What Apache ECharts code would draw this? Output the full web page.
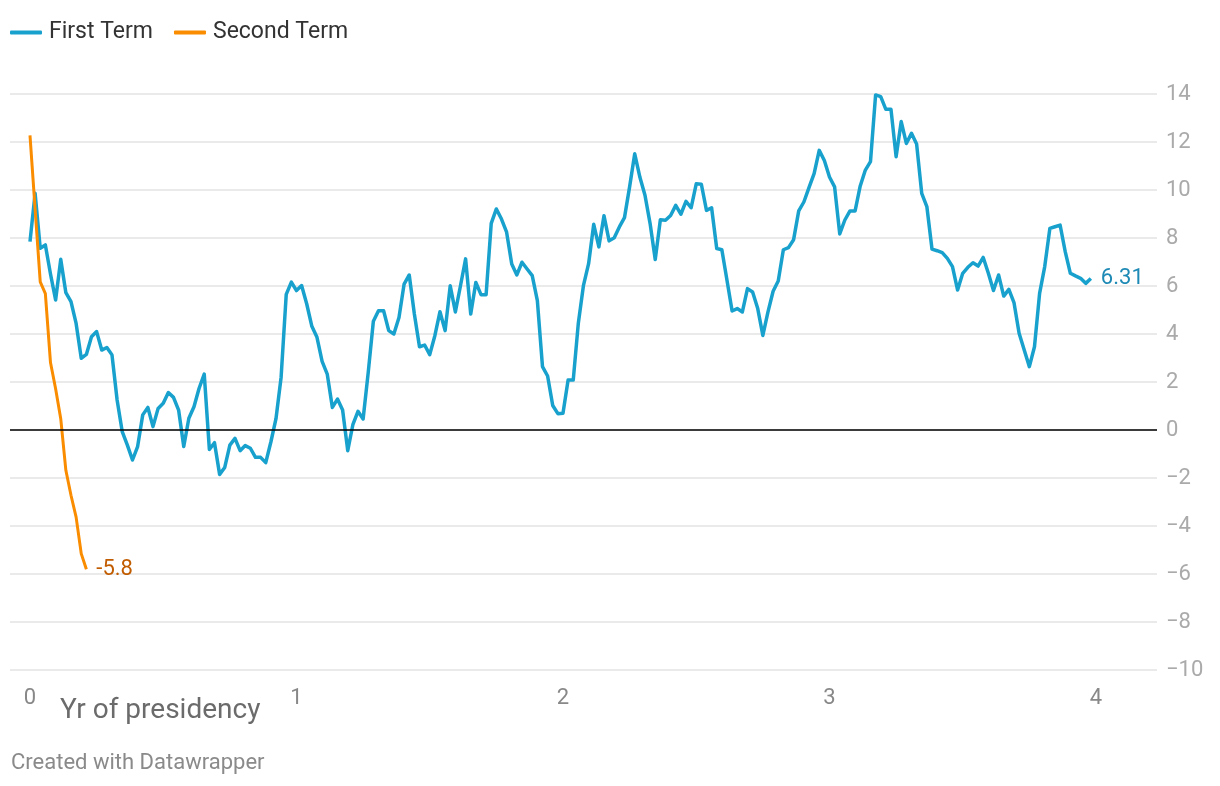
<!DOCTYPE html>
<html>
<head>
<meta charset="utf-8">
<script src="https://cdn.jsdelivr.net/npm/echarts@6/dist/echarts.min.js"></script>
<style>
html,body{margin:0;padding:0;background:#fff;}
#chart{width:1220px;height:786px;}
</style>
</head>
<body>
<div id="chart"></div>
<script>
// weekly values (52 weeks per year of presidency)
const weeksPerYear = 52;
const firstTerm = [
7.85,9.86,7.57,7.71,6.5,5.42,7.11,5.72,5.35,4.44,
2.99,3.15,3.89,4.10,3.33,3.44,3.13,1.25,-0.07,-0.63,
-1.25,-0.69,0.63,0.94,0.14,0.90,1.11,1.56,1.36,0.83,
-0.69,0.49,0.97,1.74,2.33,-0.81,-0.53,-1.85,-1.56,-0.63,
-0.35,-0.86,-0.65,-0.76,-1.14,-1.14,-1.36,-0.5,0.47,2.2,
5.65,6.16,5.81,6.02,5.25,4.32,3.86,2.86,2.33,0.94,
1.29,0.83,-0.86,0.22,0.78,0.46,2.40,4.53,4.97,4.97,
4.14,4.0,4.69,6.08,6.46,4.83,3.47,3.54,3.14,3.93,
4.93,4.14,6.01,4.92,6.01,7.13,4.83,6.15,5.64,5.64,
8.61,9.21,8.79,8.24,6.92,6.46,6.99,6.71,6.43,5.39,
2.64,2.25,1.02,0.68,0.70,2.08,2.08,4.46,6.03,6.93,
8.57,7.63,8.93,7.88,8.01,8.46,8.85,10.13,11.51,10.54,
9.78,8.6,7.1,8.76,8.74,8.94,9.36,8.99,9.53,9.26,
10.26,10.24,9.15,9.26,7.56,7.51,6.24,4.96,5.06,4.92,
5.89,5.75,5.06,3.94,4.92,5.78,6.21,7.51,7.6,7.93,
9.13,9.5,10.1,10.68,11.65,11.23,10.54,10.13,8.17,8.75,
9.13,9.13,10.17,10.83,11.18,13.96,13.89,13.36,13.36,11.39,
12.85,11.94,12.36,11.92,9.86,9.31,7.54,7.47,7.39,7.15,
6.81,5.83,6.53,6.78,6.97,6.83,7.19,6.53,5.81,6.46,
5.58,5.86,5.31,4.03,3.33,2.64,3.47,5.69,6.81,8.4,
8.47,8.54,7.43,6.53,6.42,6.32,6.11,6.31
];
const secondTerm = [12.28,9.2,6.17,5.68,2.81,1.72,0.47,-1.68,-2.72,-3.63,-5.15,-5.8];
const seriesNames = ['First Term','Second Term'];
const xTickValues = [0,1,2,3,4];
const yTicks = {min:-10, max:14, step:2};

function toPairs(arr){ return arr.map((v,i)=>[i/weeksPerYear, v]); }

const FONT = 'Roboto, "Noto Sans", sans-serif';
const chart = echarts.init(document.getElementById('chart'), null, {renderer:'canvas'});
chart.setOption({
  animation:false,
  backgroundColor:'#fff',
  textStyle:{fontFamily:FONT},
  legend:{
    left:10, top:21, padding:0,
    icon:'roundRect', itemWidth:32, itemHeight:4, itemGap:21,
    textStyle:{fontSize:23, color:'#333', fontFamily:FONT, padding:[0,0,0,2]},
    data:seriesNames
  },
  grid:{left:10, right:63, top:94, bottom:116, containLabel:false, outerBoundsMode:'none'},
  xAxis:{
    type:'value', min:-0.075, max:4.229,
    axisLine:{show:false}, axisTick:{show:false}, splitLine:{show:false},
    axisLabel:{customValues:xTickValues, color:'#888', fontSize:22, margin:17, fontFamily:FONT}
  },
  yAxis:{
    type:'value', position:'right', min:yTicks.min, max:yTicks.max, interval:yTicks.step,
    axisLine:{show:false}, axisTick:{show:false},
    splitLine:{show:true, lineStyle:{color:'#e3e3e3', width:1.5}},
    axisLabel:{color:'#aaa', fontSize:22, margin:9, fontFamily:FONT,
      formatter:v=> (v<0 ? '\u2212'+Math.abs(v) : String(v))}
  },
  series:[
    {
      name:seriesNames[0], type:'line', data:toPairs(firstTerm),
      showSymbol:false, symbol:'none', color:'#18a1cd',
      lineStyle:{width:3.5, color:'#18a1cd', join:'round'},
      endLabel:{show:true, formatter:p=>String(p.value[1]), color:'#1d89b5', fontSize:22, distance:10, fontFamily:FONT},
      markLine:{silent:true, symbol:'none', label:{show:false},
        lineStyle:{color:'#000', width:1.5, type:'solid'}, data:[{yAxis:0}]},
      z:2
    },
    {
      name:seriesNames[1], type:'line', data:toPairs(secondTerm),
      showSymbol:false, symbol:'none', color:'#fa8c00',
      lineStyle:{width:3, color:'#fa8c00', join:'round'},
      endLabel:{show:true, formatter:p=>String(p.value[1]), color:'#c15c00', fontSize:22, distance:10, fontFamily:FONT},
      z:3
    }
  ],
  graphic:[
    {type:'text', left:60, top:697, style:{text:'Yr of presidency', fontSize:28, fill:'#6b6b6b', fontFamily:FONT}},
    {type:'text', left:11, top:752, style:{text:'Created with Datawrapper', fontSize:22, fill:'#8a8a8a', fontFamily:FONT}}
  ]
});
</script>
</body>
</html>
